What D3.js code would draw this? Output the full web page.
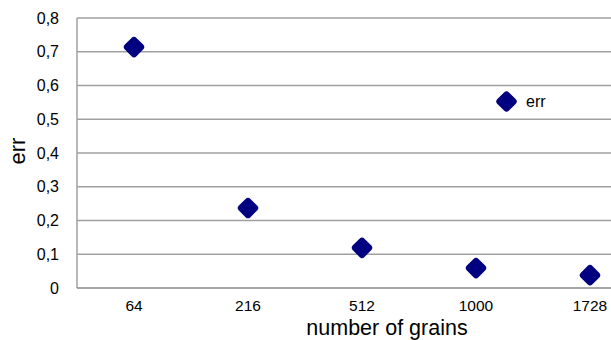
<!DOCTYPE html>
<html><head><meta charset="utf-8">
<script src="https://cdn.jsdelivr.net/npm/d3@7"></script>
<style>body{margin:0;background:#fff}svg{display:block}text{font-family:"Liberation Sans",Arial,sans-serif}</style>
</head><body>
<svg id="c" width="611" height="340"></svg>
<script>
const categories = ["64","216","512","1000","1728"];
const errValues = [0.714, 0.237, 0.119, 0.059, 0.038];
const yTicks = [0,0.1,0.2,0.3,0.4,0.5,0.6,0.7,0.8];
const seriesName = "err";

(function(){
const svg = d3.select("#c");
const mLeft = 77, mTop = 18, mBottom = 288, bandW = 114;
const x = d3.scaleBand().domain(categories).range([mLeft, mLeft + bandW*categories.length]);
const y = d3.scaleLinear().domain([0,0.8]).range([mBottom, mTop]);
const fmt = d => d === 0 ? "0" : d3.format(".1f")(d).replace(".", ",");

svg.append("g").selectAll("line").data(yTicks.filter(d=>d>0)).join("line")
  .attr("x1", mLeft).attr("x2", 611).attr("y1", d=>y(d)).attr("y2", d=>y(d))
  .attr("stroke", "#a0a0a0").attr("stroke-width", 1.5);

svg.append("line").attr("x1", mLeft).attr("x2", mLeft).attr("y1", mTop).attr("y2", mBottom)
  .attr("stroke","#a0a0a0").attr("stroke-width",1.5);
svg.append("line").attr("x1", mLeft).attr("x2", 611).attr("y1", mBottom).attr("y2", mBottom)
  .attr("stroke","#888").attr("stroke-width",1.5);

svg.append("g").selectAll("text").data(yTicks).join("text")
  .attr("x", 59).attr("y", d=>y(d)).attr("dy","0.35em").attr("text-anchor","end")
  .attr("font-size", 16).attr("fill","#000").text(fmt);

svg.append("g").selectAll("text").data(categories).join("text")
  .attr("x", d=>x(d)+x.bandwidth()/2).attr("y", 305.5).attr("dy","0.35em").attr("text-anchor","middle")
  .attr("font-size", 15.5).attr("fill","#000").text(d=>d);

svg.append("text").attr("x", 387).attr("y", 335).attr("text-anchor","middle")
  .attr("font-size", 21.5).text("number of grains");
svg.append("text").attr("transform","translate(25,151) rotate(-90)").attr("text-anchor","middle")
  .attr("font-size", 22).text("err");

function diamond(g, cx, cy){
  g.append("rect").attr("x",-8.2).attr("y",-8.2).attr("width",16.4).attr("height",16.4).attr("rx",3.5)
   .attr("fill","#000080").attr("transform",`translate(${cx},${cy}) rotate(45)`);
}
const pts = svg.append("g");
categories.forEach((c,i)=> diamond(pts, x(c)+x.bandwidth()/2, y(errValues[i])));

diamond(svg, 506.5, 101.5);
svg.append("text").attr("x", 526).attr("y", 101).attr("dy","0.35em").attr("font-size",16).text(seriesName);
})();
</script>
</body></html>
